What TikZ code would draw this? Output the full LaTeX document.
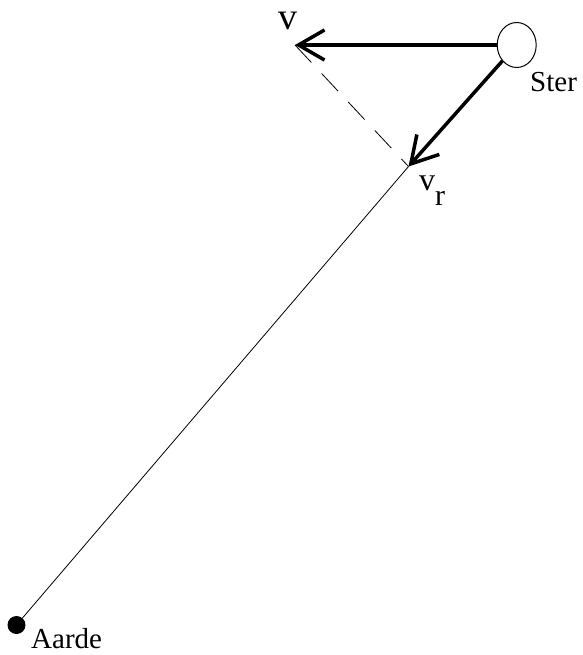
\documentclass[tikz,border=0pt]{standalone}
\usepackage{fontspec}
\setmainfont{Liberation Serif}
\usetikzlibrary{arrows.meta,shapes.geometric}
\begin{document}
\begin{tikzpicture}[x=1pt,y=-1pt,
  vec/.style={line width=3.5pt,-{Straight Barb[length=26pt,width=30pt,line width=3.5pt]}},
  lbl/.style={inner sep=0pt,font=\fontsize{29}{30}\selectfont}]
\useasboundingbox (0,0) rectangle (582,655);
\node[ellipse,draw,line width=1pt,minimum width=39pt,minimum height=45pt,inner sep=0pt] (star) at (516.7,45) {};
\node[circle,fill=black,minimum size=18pt,inner sep=0pt] (earth) at (16.5,625) {};
\coordinate (vtip) at (295,45);
\coordinate (vrtip) at (408.5,166.5);
\draw[vec] (star.west) -- (vtip);
\draw[vec] (star.228) -- (vrtip);
\draw[line width=0.8pt,dash pattern=on 24pt off 15pt] (vtip) -- (vrtip);
\draw[line width=0.8pt] (vrtip) -- (earth);
\node[lbl,anchor=base west] (ster) at (530,92) {Ster};
\node[lbl,anchor=base west] (aarde) at (31,648) {Aarde};
\node[lbl,anchor=base west,font=\fontsize{38}{38}\selectfont] (v) at (278,30) {v};
\node[lbl,anchor=base west,font=\fontsize{32}{32}\selectfont] (vr) at (419,190) {v\raisebox{-15pt}{\fontsize{30}{30}\selectfont r}};
\end{tikzpicture}
\end{document}
